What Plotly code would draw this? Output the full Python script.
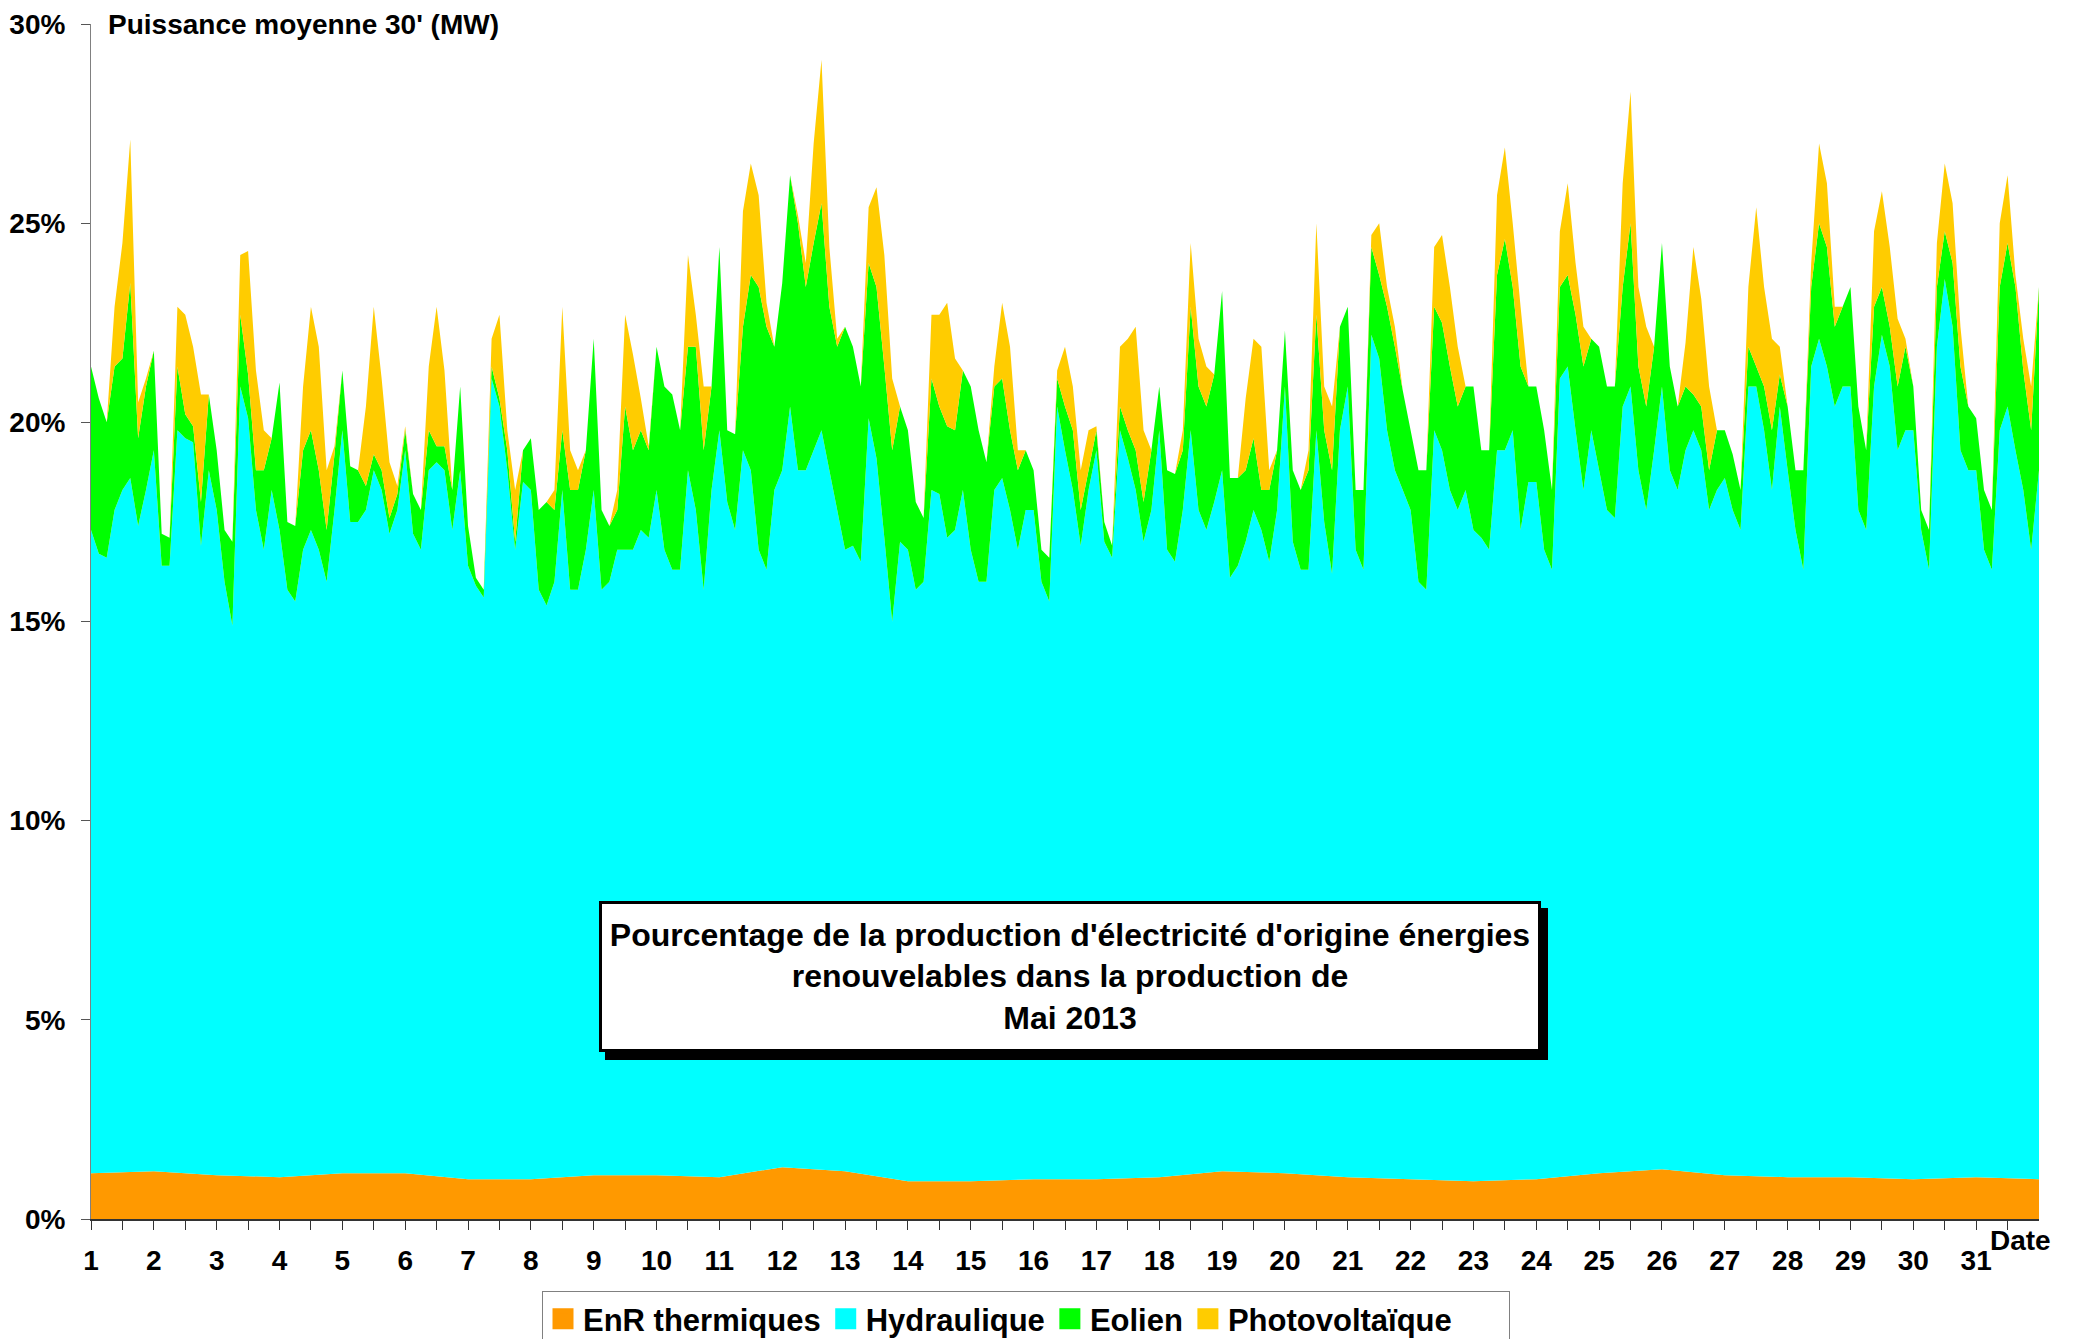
import plotly.graph_objects as go

# ---------------- data (values in % of total electricity production) ----------------
jours = list(range(1, 32))                 # days of May 2013
heures = [0, 3, 6, 9, 12, 15, 18, 21]      # sampling hours within each day
tick_labels = [str(d) for d in jours]
y_ticks = [0, 5, 10, 15, 20, 25, 30]
y_tick_labels = [f"{v}%" for v in y_ticks]

# EnR thermiques share, at the start of each day (last value = end of 31 May)
thermique = [1.15, 1.2, 1.1, 1.05, 1.15, 1.15, 1.0, 1.0, 1.1, 1.1, 1.05, 1.3,
             1.2, 0.95, 0.95, 1.0, 1.0, 1.05, 1.2, 1.15, 1.05, 1.0, 0.95, 1.0,
             1.15, 1.25, 1.1, 1.05, 1.05, 1.0, 1.05, 1.0]

# Upper edge of the Hydraulique band (cumulated %), one row per day
hydraulique_cumul = [
    17.3, 16.7, 16.6, 17.8, 18.3, 18.6, 17.4, 18.3,
    19.3, 16.4, 16.4, 19.8, 19.6, 19.5, 16.9, 18.8,
    17.8, 16.0, 14.9, 20.9, 20.1, 17.8, 16.8, 18.3,
    17.3, 15.8, 15.5, 16.8, 17.3, 16.8, 16.0, 17.8,
    19.8, 17.5, 17.5, 17.8, 18.8, 18.3, 17.2, 17.8,
    19.3, 17.2, 16.8, 18.8, 19.0, 18.8, 17.3, 18.8,
    16.4, 15.9, 15.6, 21.1, 20.4, 18.8, 16.8, 18.5,
    18.3, 15.8, 15.4, 16.0, 18.3, 15.8, 15.8, 16.8,
    18.3, 15.8, 16.0, 16.8, 16.8, 16.8, 17.3, 17.1,
    18.3, 16.8, 16.3, 16.3, 18.8, 17.8, 15.8, 18.3,
    19.8, 18.0, 17.3, 19.3, 18.8, 16.8, 16.3, 18.3,
    18.8, 20.4, 18.8, 18.8, 19.3, 19.8, 18.8, 17.8,
    16.8, 16.9, 16.5, 20.1, 19.1, 17.1, 15.0, 17.0,
    16.8, 15.8, 16.0, 18.3, 18.2, 17.1, 17.3, 18.3,
    16.8, 16.0, 16.0, 18.3, 18.6, 17.8, 16.8, 17.8,
    17.8, 16.0, 15.5, 20.4, 19.3, 18.3, 16.9, 18.3,
    19.3, 17.0, 16.6, 19.8, 19.1, 18.3, 17.0, 17.8,
    19.8, 16.8, 16.5, 17.8, 19.8, 17.8, 17.3, 18.0,
    18.8, 16.1, 16.4, 17.0, 17.8, 17.3, 16.5, 17.8,
    20.9, 17.0, 16.3, 16.3, 19.8, 17.5, 16.2, 19.8,
    20.9, 16.8, 16.3, 22.2, 21.6, 19.8, 18.8, 18.3,
    17.8, 16.0, 15.8, 19.8, 19.3, 18.3, 17.8, 18.3,
    17.3, 17.1, 16.8, 19.3, 19.3, 19.8, 17.3, 18.5,
    18.5, 16.8, 16.3, 21.1, 21.4, 19.8, 18.3, 19.8,
    18.8, 17.8, 17.6, 20.4, 20.9, 18.8, 17.8, 19.3,
    20.9, 18.8, 18.3, 19.3, 19.8, 19.3, 17.8, 18.3,
    18.6, 17.8, 17.3, 20.9, 20.9, 19.8, 18.3, 20.4,
    18.8, 17.3, 16.3, 21.4, 22.1, 21.4, 20.4, 20.9,
    20.9, 17.8, 17.3, 20.9, 22.2, 21.4, 19.3, 19.8,
    19.8, 17.3, 16.3, 21.9, 23.6, 22.4, 19.3, 18.8,
    18.8, 16.8, 16.3, 19.8, 20.4, 19.3, 18.3, 16.8,
    18.8,
]

# Upper edge of the Eolien band (cumulated %)
eolien_cumul = [
    21.4, 20.6, 20.0, 21.4, 21.6, 23.5, 19.6, 20.9,
    21.8, 17.2, 17.1, 21.4, 20.2, 19.9, 18.0, 20.7,
    19.3, 17.3, 17.0, 22.7, 21.2, 18.8, 18.8, 19.6,
    21.0, 17.5, 17.4, 19.3, 19.8, 18.8, 17.3, 19.2,
    21.3, 18.9, 18.8, 18.4, 19.2, 18.8, 17.6, 18.2,
    19.8, 18.2, 17.8, 19.8, 19.4, 19.4, 18.3, 20.9,
    17.4, 16.1, 15.8, 21.4, 20.6, 19.3, 17.0, 19.3,
    19.6, 17.8, 18.0, 17.8, 19.8, 18.3, 18.3, 19.3,
    22.1, 17.8, 17.4, 17.8, 20.4, 19.3, 19.8, 19.3,
    21.9, 20.9, 20.7, 19.8, 21.9, 21.9, 19.3, 20.9,
    24.4, 19.8, 19.7, 22.4, 23.7, 23.4, 22.4, 21.9,
    23.5, 26.2, 25.0, 23.4, 24.5, 25.5, 22.9, 21.9,
    22.4, 21.9, 20.9, 24.0, 23.4, 21.4, 19.3, 20.4,
    19.8, 18.0, 17.6, 21.1, 20.4, 19.9, 19.8, 21.3,
    20.9, 19.8, 19.0, 20.9, 21.1, 19.8, 18.8, 19.3,
    18.8, 16.8, 16.6, 21.1, 20.4, 19.8, 17.8, 18.8,
    19.8, 17.5, 16.9, 20.4, 19.8, 19.3, 18.0, 19.3,
    20.9, 18.8, 18.7, 19.3, 22.9, 20.9, 20.4, 21.2,
    23.3, 18.6, 18.6, 18.8, 19.6, 18.3, 18.3, 19.3,
    22.3, 18.8, 18.3, 18.8, 22.7, 19.8, 18.8, 22.4,
    22.9, 18.3, 18.3, 24.4, 23.7, 22.9, 21.9, 20.8,
    19.8, 18.8, 18.8, 22.9, 22.5, 21.4, 20.4, 20.9,
    20.9, 19.3, 19.3, 23.7, 24.6, 23.4, 21.4, 20.9,
    20.9, 19.8, 18.3, 23.4, 23.7, 22.7, 21.4, 22.1,
    21.9, 20.9, 20.9, 23.4, 25.0, 21.4, 20.4, 21.9,
    24.5, 21.4, 20.4, 20.9, 20.7, 20.4, 18.8, 19.8,
    19.8, 19.2, 18.3, 21.9, 21.4, 20.9, 19.8, 21.2,
    20.4, 18.8, 18.8, 23.4, 25.0, 24.4, 22.4, 22.9,
    23.4, 20.4, 19.3, 22.9, 23.4, 22.4, 20.9, 21.9,
    20.9, 17.8, 17.3, 23.4, 24.8, 24.0, 21.4, 20.4,
    20.1, 18.3, 17.8, 23.4, 24.5, 23.4, 21.3, 19.8,
    23.4,
]

# Upper edge of the Photovoltaïque band = total renewable share (cumulated %)
photovoltaique_cumul = [
    21.4, 20.6, 20.0, 22.9, 24.5, 27.1, 20.5, 21.1,
    21.8, 17.2, 17.1, 22.9, 22.7, 21.9, 20.7, 20.7,
    19.3, 17.3, 17.0, 24.2, 24.3, 21.3, 19.8, 19.6,
    21.0, 17.5, 17.4, 20.9, 22.9, 21.9, 18.8, 19.4,
    21.3, 18.9, 18.8, 20.4, 22.9, 21.1, 19.0, 18.4,
    19.9, 18.2, 17.8, 21.4, 22.9, 21.3, 18.3, 20.9,
    17.4, 16.1, 15.8, 22.1, 22.7, 19.8, 18.3, 19.3,
    19.6, 17.8, 18.0, 18.3, 22.9, 19.3, 18.8, 19.3,
    22.1, 17.8, 17.4, 18.3, 22.7, 21.7, 20.6, 19.4,
    21.9, 20.9, 20.7, 19.8, 24.2, 22.7, 20.9, 20.9,
    24.4, 19.8, 19.7, 25.3, 26.5, 25.7, 23.0, 21.9,
    23.5, 26.2, 25.2, 24.0, 27.0, 29.1, 24.4, 22.1,
    22.4, 21.9, 20.9, 25.4, 25.9, 24.2, 21.1, 20.4,
    19.8, 18.0, 17.6, 22.7, 22.7, 23.0, 21.6, 21.3,
    20.9, 19.8, 19.0, 21.4, 23.0, 21.9, 19.3, 19.3,
    18.8, 16.8, 16.6, 21.3, 21.9, 20.9, 18.8, 19.8,
    19.9, 17.5, 16.9, 21.9, 22.1, 22.4, 19.8, 19.3,
    20.9, 18.8, 18.7, 19.8, 24.5, 22.1, 21.4, 21.2,
    23.3, 18.6, 18.6, 20.6, 22.1, 21.9, 18.8, 19.3,
    22.3, 18.8, 18.3, 19.3, 25.0, 20.9, 20.4, 22.4,
    22.9, 18.3, 18.3, 24.7, 25.0, 23.4, 22.4, 20.8,
    19.8, 18.8, 18.8, 24.4, 24.7, 23.4, 21.9, 20.9,
    20.9, 19.3, 19.3, 25.7, 26.9, 25.0, 22.9, 20.9,
    20.9, 19.8, 18.3, 24.8, 26.0, 24.0, 22.4, 22.1,
    21.9, 20.9, 20.9, 26.0, 28.3, 23.4, 22.4, 21.9,
    24.5, 21.4, 20.4, 22.0, 24.4, 23.1, 20.9, 19.8,
    19.8, 19.2, 18.3, 23.4, 25.4, 23.4, 22.1, 21.9,
    20.4, 18.8, 18.8, 24.0, 27.0, 26.0, 22.9, 22.9,
    23.4, 20.4, 19.3, 24.8, 25.8, 24.4, 22.6, 22.1,
    20.9, 17.8, 17.3, 24.5, 26.5, 25.5, 22.4, 20.4,
    20.1, 18.3, 17.8, 25.0, 26.2, 23.7, 22.1, 20.9,
    23.4,
]

noms = ["EnR thermiques", "Hydraulique", "Eolien", "Photovoltaïque"]
couleurs = ["#FF9900", "#00FFFF", "#00FF00", "#FFCC00"]

# ---------------- figure ----------------
FONT = "Liberation Sans, Arial, Helvetica, sans-serif"
x_temps = [d + h / 24 for d in jours for h in heures] + [32]
x_therm = jours + [32]

fig = go.Figure()
series = [(x_therm, thermique, "tozeroy"),
          (x_temps, hydraulique_cumul, "tonexty"),
          (x_temps, eolien_cumul, "tonexty"),
          (x_temps, photovoltaique_cumul, "tonexty")]
for (xs, ys, fill), nom, col in zip(series, noms, couleurs):
    fig.add_trace(go.Scatter(x=xs, y=ys, mode="none", fill=fill, fillcolor=col,
                             name=nom, showlegend=False, hoverinfo="skip"))
# legend swatches (the last entry is padded so the legend frame reaches the original width)
for i, (nom, col) in enumerate(zip(noms, couleurs)):
    label = nom + ("\u00a0" * 6 if i == len(noms) - 1 else "")
    fig.add_trace(go.Scatter(x=[None], y=[None], mode="markers", name=label,
                             marker=dict(symbol="square", size=16, color=col,
                                         line=dict(color=col, width=5))))

# page is offset by the 8 px body margin of the html page
OFF = 8
PAGE_W, PAGE_H = 2074, 1339
W, H = PAGE_W - OFF, PAGE_H - OFF
PL, PR, PT, PB = 91, 2039, 24, 1219      # plot area in page pixels
L, R, T, B = PL - OFF, PAGE_W - PR, PT - OFF, PAGE_H - PB
pw, ph = PR - PL, PB - PT


def px(xp):
    return (xp - PL) / pw


def py(yp):
    return (PB - yp) / ph


fig.update_layout(
    width=W, height=H,
    margin=dict(l=L, r=R, t=T, b=B, autoexpand=False),
    paper_bgcolor="white", plot_bgcolor="white",
    font=dict(family=FONT, size=28, color="black", weight="bold"),
    showlegend=True,
    legend=dict(orientation="h", x=px(542), xanchor="left", y=py(1291), yanchor="top",
                bordercolor="#808080", borderwidth=1, bgcolor="white",
                font=dict(family=FONT, size=31, color="black", weight="bold"),
                itemsizing="trace", itemwidth=30, traceorder="normal"),
    xaxis=dict(range=[1, 32], tickmode="array", tickvals=jours, ticktext=tick_labels,
               ticks="outside", ticklen=9, tickwidth=1, tickcolor="#333333",
               showline=True, linecolor="#333333", linewidth=2,
               showgrid=False, zeroline=False, ticklabelstandoff=6,
               tickfont=dict(family=FONT, size=28, color="black", weight="bold"),
               minor=dict(tickmode="array", tickvals=[d + 0.5 for d in jours],
                          ticks="outside", ticklen=9, tickwidth=1, tickcolor="#333333",
                          showgrid=False)),
    yaxis=dict(range=[0, 30], tickmode="array", tickvals=y_ticks, ticktext=y_tick_labels,
               ticks="outside", ticklen=9, tickwidth=1, tickcolor="#555555",
               showline=True, linecolor="#808080", linewidth=1,
               showgrid=False, zeroline=False, ticklabelstandoff=10,
               tickfont=dict(family=FONT, size=28, color="black", weight="bold")),
)

# box shadow
fig.add_shape(type="rect", xref="paper", yref="paper",
              x0=px(605), x1=px(1548), y0=py(1060), y1=py(908),
              fillcolor="black", line=dict(width=0), layer="above")

fig.add_annotation(
    xref="paper", yref="paper", x=px(1070), y=py(976.5), xanchor="center", yanchor="middle",
    text="Pourcentage de la production d'électricité d'origine énergies<br>"
         "renouvelables dans la production de<br>Mai 2013",
    showarrow=False, align="center", bgcolor="white", bordercolor="black",
    borderwidth=3, borderpad=0, width=936, height=145,
    font=dict(family=FONT, size=32, color="black", weight="bold"))

fig.add_annotation(xref="paper", yref="paper", x=px(106), y=py(24),
                   xanchor="left", yanchor="middle", showarrow=False,
                   text="Puissance moyenne 30' (MW)",
                   font=dict(family=FONT, size=28, color="black", weight="bold"))

fig.add_annotation(xref="paper", yref="paper", x=px(2020), y=py(1240),
                   xanchor="center", yanchor="middle", showarrow=False,
                   text="Date",
                   font=dict(family=FONT, size=28, color="black", weight="bold"))

fig.write_html("out.html")
